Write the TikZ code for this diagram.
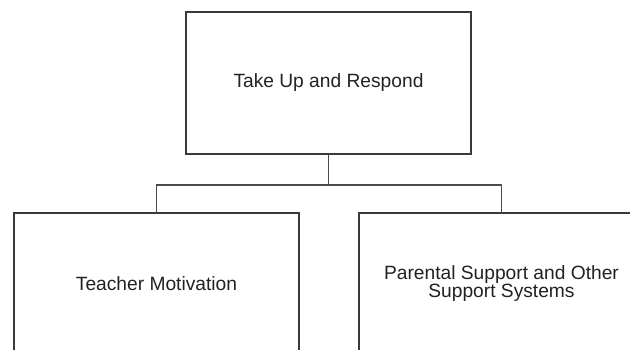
\documentclass[tikz,border=0pt]{standalone}
\usepackage{fontspec}
\setmainfont{Liberation Sans}
\definecolor{boxgray}{HTML}{3A3A3A}
\definecolor{linkgray}{HTML}{4A4A4A}
\definecolor{textgray}{HTML}{222222}
\begin{document}
\begin{tikzpicture}[x=1pt,y=-1pt,
  box/.style={draw=boxgray, line width=2.2pt, minimum width=285pt, minimum height=142pt,
    inner sep=0pt, align=center, font=\fontsize{19.2}{18}\selectfont, text=textgray},
  link/.style={draw=linkgray, line width=1.8pt}]
\useasboundingbox (0,0) rectangle (630,349);
\clip (0,0) rectangle (630,349);
\fill[white] (0,0) rectangle (630,349);
\node[box] (top) at (328.5,83) {Take Up and Respond};
\node[box] (left) at (156.5,284) {Teacher Motivation};
\node[box] (right) at (501.5,284) {Parental Support and Other\\Support Systems};
\draw[link] (top.south) -- ++(0,29.5) coordinate (j);
\draw[link] (left.north) |- (j) -| (right.north);
\end{tikzpicture}
\end{document}
